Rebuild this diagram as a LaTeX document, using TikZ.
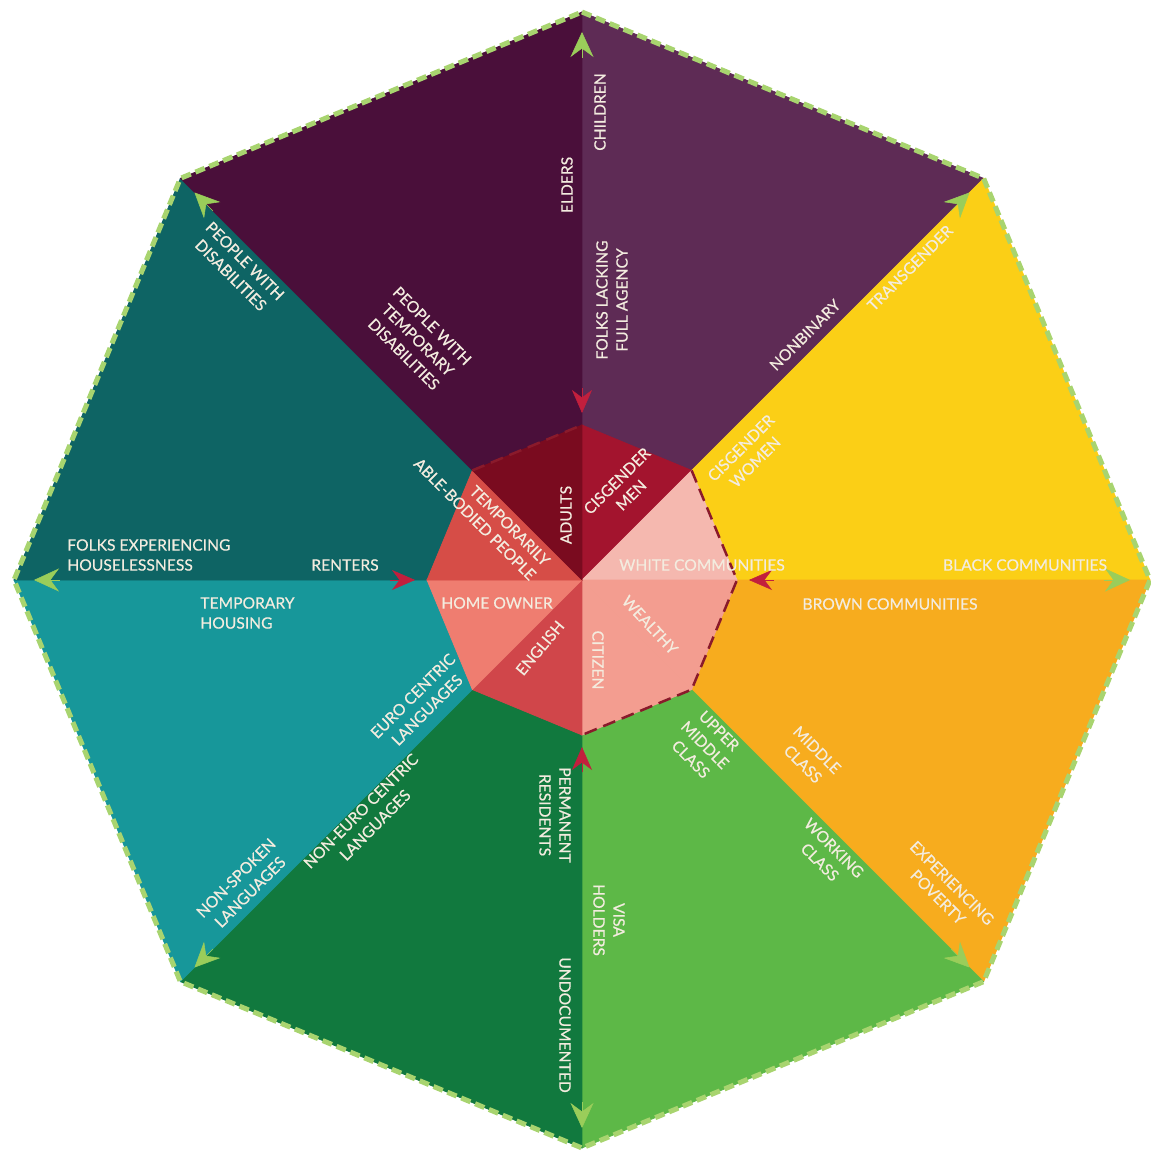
\documentclass[tikz,border=0pt]{standalone}
\usepackage{fontspec}
\setmainfont{Lato}
\newfontfamily\lblfont{Lato}[FakeBold=0.5]
\usetikzlibrary{arrows.meta,positioning}

\definecolor{plumlight}{HTML}{5E2B55}
\definecolor{sunyellow}{HTML}{FBCF16}
\definecolor{amber}{HTML}{F7AC1E}
\definecolor{leafgreen}{HTML}{5DB847}
\definecolor{forestgreen}{HTML}{11793E}
\definecolor{tealmid}{HTML}{17979A}
\definecolor{deepteal}{HTML}{0E6464}
\definecolor{plumdark}{HTML}{4A0F3A}

\definecolor{crimson}{HTML}{A3142E}
\definecolor{blush}{HTML}{F5B8AF}
\definecolor{salmonlight}{HTML}{F39D90}
\definecolor{brick}{HTML}{D0464A}
\definecolor{salmon}{HTML}{EF7D70}
\definecolor{brickred}{HTML}{D64D47}
\definecolor{maroon}{HTML}{7A0B1F}

\definecolor{rimgreen}{HTML}{A8D46F}
\definecolor{tipgreen}{HTML}{9ACD5A}
\definecolor{tipred}{HTML}{C21F3D}
\definecolor{coredash}{HTML}{8A1A2B}
\definecolor{labelcream}{HTML}{F3ECDF}

\begin{document}
\begin{tikzpicture}
		[x=0.02cm,y=0.02cm,
		lbl/.style={text=labelcream,font=\lblfont\fontsize{8.9}{11.4}\selectfont,align=center,inner sep=0pt},
		greentip/.style={draw=tipgreen,line width=0.3pt,-{Stealth[length=0.5cm,width=0.46cm,inset=0.17cm]}},
		redtip/.style={draw=tipred,line width=0.3pt,-{Stealth[length=0.46cm,width=0.4cm,inset=0.15cm]}},
		rim/.style={draw=rimgreen,line width=0.1cm,dash pattern=on 0.2cm off 0.1cm,line join=round},
		corerim/.style={draw=coredash,line width=0.05cm,dash pattern=on 0.26cm off 0.14cm}]
		\def \R {568}
		\def \r {155}
		\useasboundingbox (-582,-573) rectangle (568,580);
		\coordinate (c) at (0,0);
		
		% outer wedges, clockwise from the top
		\foreach \a/\col in {90/plumlight,45/sunyellow,0/amber,-45/leafgreen,-90/forestgreen,-135/tealmid,-180/deepteal,-225/plumdark}
		\filldraw[fill=\col,draw=\col,line width=0.4pt] (c) -- (\a:\R) -- (\a-45:\R) -- cycle;
		
		% inner wedges
		\foreach \a/\col in {90/crimson,45/blush,0/salmonlight,-45/salmonlight,-90/brick,-135/salmon,-180/brickred,-225/maroon}
		\filldraw[fill=\col,draw=\col,line width=0.4pt] (c) -- (\a:\r) -- (\a-45:\r) -- cycle;
		
		\draw[corerim] (135:\r) -- (90:\r);
		\draw[corerim] (45:\r) -- (0:\r) -- (-45:\r) -- (-90:\r);
		
		\draw[rim] (90:\R) -- (45:\R) -- (0:\R) -- (-45:\R) -- (-90:\R) -- (-135:\R) -- (180:\R) -- (135:\R) -- cycle;
		
		% arrow heads at both ends of the axes
		\foreach \a [count=\i] in {90,45,...,-225} {
			\coordinate (gb\i) at (\a:522);
			\coordinate (gt\i) at (\a:548);
			\draw[greentip] (gb\i) -- (gt\i);
		}
		\foreach \a in {90,0,-90,180} {
			\coordinate (rb\a) at (\a:192);
			\coordinate (rt\a) at (\a:167);
			\draw[redtip] (rb\a) -- (rt\a);
		}
		
		% age
		\node[lbl,rotate=90] (elders) at (-15,395) {ELDERS};
		\node[lbl,rotate=90] (adults) at (-16,65) {ADULTS};
		\node[lbl,rotate=90] (children) at (18,468) {CHILDREN};
		\node[lbl,rotate=90] (agency) at (30,280) {FOLKS LACKING\\FULL AGENCY};
		
		% gender
		\node[lbl,rotate=45] (nonbinary) at (223,245) {NONBINARY};
		\node[lbl,rotate=45] (cismen) at (42,92) {CISGENDER\\MEN};
		\node[lbl,rotate=45] (trans) at (328,312) {TRANSGENDER};
		\node[lbl,rotate=45] (ciswomen) at (166,125) {CISGENDER\\WOMEN};
		
		% race
		\node[lbl] (black) at (443,15) {BLACK COMMUNITIES};
		\node[lbl] (white) at (120,15) {WHITE COMMUNITIES};
		\node[lbl] (brown) at (308,-24) {BROWN COMMUNITIES};
		
		% class
		\node[lbl,rotate=-47] (wealthy) at (68,-45) {WEALTHY};
		\node[lbl,rotate=-45] (middle) at (228,-177) {MIDDLE\\CLASS};
		\node[lbl,rotate=-45] (poverty) at (363,-310) {EXPERIENCING\\POVERTY};
		\node[lbl,rotate=-45] (upper) at (123,-165) {UPPER\\MIDDLE\\CLASS};
		\node[lbl,rotate=-45] (working) at (245,-275) {WORKING\\CLASS};
		
		% citizenship
		\node[lbl,rotate=-90] (citizen) at (16,-80) {CITIZEN};
		\node[lbl,rotate=-90] (visa) at (27,-340) {VISA\\HOLDERS};
		\node[lbl,rotate=-90] (permanent) at (-27,-235) {PERMANENT\\RESIDENTS};
		\node[lbl,rotate=-90] (undoc) at (-17,-445) {UNDOCUMENTED};
		
		% language
		\node[lbl,rotate=50] (english) at (-42,-68) {ENGLISH};
		\node[lbl,rotate=45] (euro) at (-162,-123) {EURO CENTRIC\\LANGUAGES};
		\node[lbl,rotate=45] (nonspoken) at (-339,-305) {NON-SPOKEN\\LANGUAGES};
		\node[lbl,rotate=45] (noneuro) at (-214,-238) {NON-EURO CENTRIC\\LANGUAGES};
		
		% housing
		\node[lbl,align=left,anchor=west] (houseless) at (-515,25) {FOLKS EXPERIENCING\\HOUSELESSNESS};
		\node[lbl] (renters) at (-237,15) {RENTERS};
		\node[lbl,align=left,anchor=west] (temphousing) at (-382,-33) {TEMPORARY\\HOUSING};
		\node[lbl] (homeowner) at (-85,-23) {HOME OWNER};
		
		% ability
		\node[lbl,rotate=-45,align=right] (tab) at (-100,68) {TEMPORARILY\\ABLE-BODIED PEOPLE};
		\node[lbl,rotate=-45] (tempdis) at (-164,240) {PEOPLE WITH\\TEMPORARY\\DISABILITIES};
		\node[lbl,rotate=-45] (disabled) at (-344,312) {PEOPLE WITH\\DISABILITIES};
		
\end{tikzpicture}
\end{document}
